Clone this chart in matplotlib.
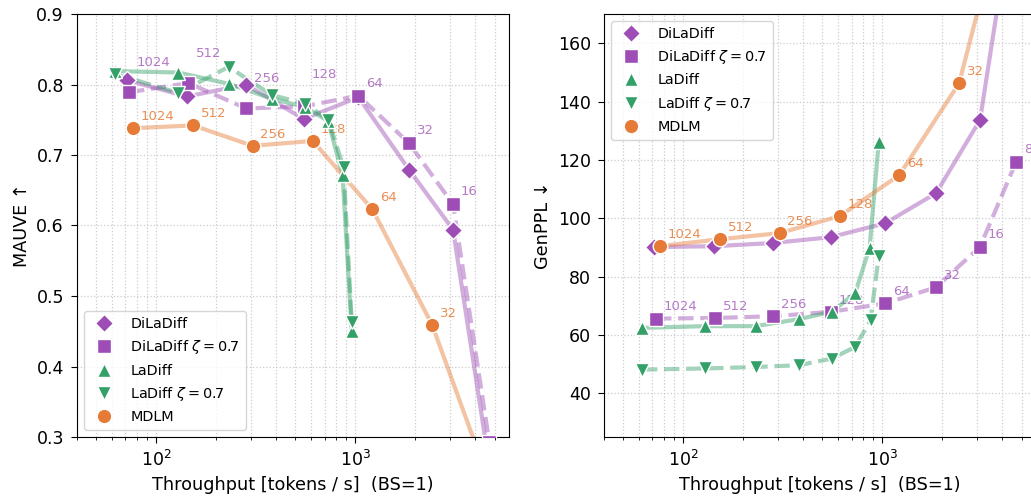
import matplotlib
matplotlib.use("Agg")
import matplotlib.pyplot as plt
from matplotlib.lines import Line2D
from matplotlib.ticker import LogLocator, NullFormatter

# ---------------- data ----------------
steps = [1024, 512, 256, 128, 64, 32, 16, 8]

mdlm_x = [76, 153, 305, 610, 1216, 2427, 4850]
dila_x = [71, 143, 282, 550, 1035, 1860, 3090, 4700]
dila_z_x = [73, 145, 283, 550, 1035, 1855, 3090, 4695]
ladiff_x = [62, 129, 231, 380, 558, 730, 862, 958]
ladiff_z_x = [62, 129, 231, 380, 558, 730, 871, 958]

mdlm_mauve = [0.738, 0.742, 0.713, 0.720, 0.623, 0.459, 0.225]
dila_mauve = [0.806, 0.783, 0.800, 0.751, 0.782, 0.679, 0.594, 0.26]
dila_z_mauve = [0.789, 0.802, 0.766, 0.769, 0.784, 0.717, 0.630, 0.293]
ladiff_mauve = [0.819, 0.817, 0.801, 0.780, 0.768, 0.748, 0.671, 0.450]
ladiff_z_mauve = [0.815, 0.788, 0.825, 0.785, 0.773, 0.750, 0.683, 0.463]

mdlm_ppl = [90.4, 92.8, 94.9, 100.7, 114.8, 146.3, 226]
dila_ppl = [90.1, 90.4, 91.5, 93.5, 98.3, 108.6, 133.7, 214]
dila_z_ppl = [65.6, 65.8, 66.4, 67.9, 70.8, 76.3, 90.2, 119.4]
ladiff_ppl = [62.4, 63.0, 63.0, 65.4, 67.9, 74.4, 89.9, 126.2]
ladiff_z_ppl = [48.1, 48.5, 49.0, 49.6, 51.9, 55.9, 65.0, 87.0]

# label vertical offsets (points) for the DiLaDiff zeta labels in the MAUVE panel
mauve_dz_dy = [21.5, 21.5, 21.5, 23, 9, 9, 9, 9]

PURPLE = "#9d4db5"
GREEN = "#33a068"
ORANGE = "#e57b37"

plt.rcParams["font.family"] = ["DejaVu Sans"]

fig = plt.figure(figsize=(10.31, 4.98), dpi=100)
axL = fig.add_axes([77 / 1031, 1 - 437 / 498, 432 / 1031, 423 / 498])
axR = fig.add_axes([604 / 1031, 1 - 437 / 498, 432 / 1031, 423 / 498])

LW = 3.0
LA = 0.45


def series(ax, x, y, color, marker, ms, ls):
    ax.plot(x, y, color=color, lw=LW, alpha=LA, ls=ls, zorder=2)
    ax.plot(x, y, ls="none", marker=marker, ms=ms, color=color,
            mec="white", mew=1.0, zorder=3)


def draw(ax, dy, ddz, dlz, dl, dm):
    series(ax, dila_x, dy, PURPLE, "D", 9.5, "-")
    series(ax, dila_z_x, ddz, PURPLE, "s", 10, "--")
    series(ax, ladiff_x, dl, GREEN, "^", 10, "-")
    series(ax, ladiff_z_x, dlz, GREEN, "v", 10, "--")
    series(ax, mdlm_x, dm, ORANGE, "o", 10.5, "-")


draw(axL, dila_mauve, dila_z_mauve, ladiff_z_mauve, ladiff_mauve, mdlm_mauve)
draw(axR, dila_ppl, dila_z_ppl, ladiff_z_ppl, ladiff_ppl, mdlm_ppl)

# annotations (drawn beneath lines and markers)
for i, s in enumerate(steps[:len(mdlm_x)]):
    for ax, yv in ((axL, mdlm_mauve), (axR, mdlm_ppl)):
        ax.annotate(str(s), (mdlm_x[i], yv[i]), xytext=(5.5, 8.5),
                    textcoords="offset points", ha="left", va="center",
                    fontsize=9.5, color=ORANGE, alpha=0.85, zorder=1.5)
for i, s in enumerate(steps):
    axL.annotate(str(s), (dila_z_x[i], dila_z_mauve[i]), xytext=(5.5, mauve_dz_dy[i]),
                 textcoords="offset points", ha="left", va="center",
                 fontsize=9.5, color=PURPLE, alpha=0.75, zorder=1.5)
    axR.annotate(str(s), (dila_z_x[i], dila_z_ppl[i]), xytext=(5.5, 8.5),
                 textcoords="offset points", ha="left", va="center",
                 fontsize=9.5, color=PURPLE, alpha=0.75, zorder=1.5)

for ax in (axL, axR):
    ax.set_xscale("log")
    ax.xaxis.set_minor_locator(LogLocator(base=10, subs=range(2, 10), numticks=20))
    ax.xaxis.set_minor_formatter(NullFormatter())
    ax.grid(True, which="major", ls=":", color="#cccccc", lw=0.9)
    ax.grid(True, which="minor", axis="x", ls=":", color="#cccccc", lw=0.9)
    ax.set_axisbelow(True)
    ax.tick_params(labelsize=12.5, which="major", length=4.4, pad=5)
    ax.tick_params(which="minor", length=2.5)
    ax.set_xlabel("Throughput [tokens / s]  (BS=1)", fontsize=12.7)
    ax.set_xlim(40, 5900)

axL.set_ylim(0.3, 0.9)
axL.set_ylabel("MAUVE \u2191", fontsize=12.7)
axR.set_ylim(25, 170)
axR.set_yticks([40, 60, 80, 100, 120, 140, 160])
axR.set_ylabel("GenPPL \u2193", fontsize=12.7)

handles = [
    Line2D([], [], ls="none", marker="D", ms=9.5, color=PURPLE, mec="white", mew=1.0),
    Line2D([], [], ls="none", marker="s", ms=10, color=PURPLE, mec="white", mew=1.0),
    Line2D([], [], ls="none", marker="^", ms=10, color=GREEN, mec="white", mew=1.0),
    Line2D([], [], ls="none", marker="v", ms=10, color=GREEN, mec="white", mew=1.0),
    Line2D([], [], ls="none", marker="o", ms=10.5, color=ORANGE, mec="white", mew=1.0),
]
labels = ["DiLaDiff", r"DiLaDiff $\zeta=0.7$", "LaDiff", r"LaDiff $\zeta=0.7$", "MDLM"]
axL.legend(handles, labels, loc="lower left", fontsize=10.4)
axR.legend(handles, labels, loc="upper left", fontsize=10.4)

fig.savefig("out.png", dpi=100)
